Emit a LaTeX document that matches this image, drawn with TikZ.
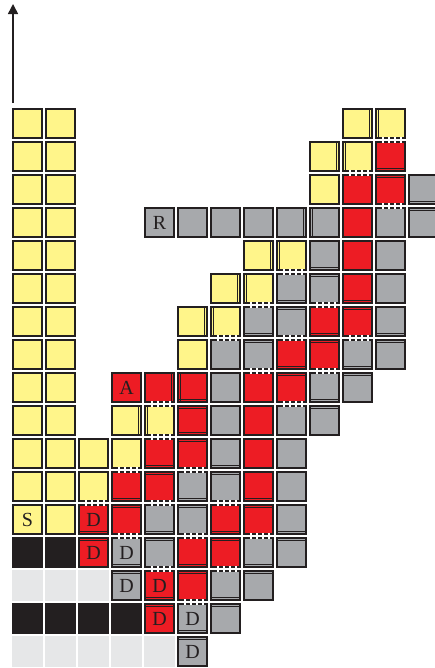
\documentclass[tikz,border=0pt]{standalone}
\usepackage{fontspec}
\setmainfont{Liberation Serif}
\usepackage{xcolor}
\usepackage{tikz}
\usetikzlibrary{arrows.meta,calc}

\definecolor{cellyellow}{RGB}{255,245,138}
\definecolor{cellred}{RGB}{237,28,36}
\definecolor{cellgray}{RGB}{167,169,172}
\definecolor{celllight}{RGB}{230,231,232}
\definecolor{ink}{RGB}{35,31,32}

\begin{document}
\begin{tikzpicture}[x=16.5pt, y=16.5pt,
  cell/.style={draw=ink, line width=0.65pt, minimum size=14.6pt,
               inner sep=0pt, outer sep=0pt, text=ink,
               font=\fontsize{10}{10}\selectfont},
  ycell/.style={cell, fill=cellyellow},
  rcell/.style={cell, fill=cellred},
  gcell/.style={cell, fill=cellgray},
  kcell/.style={cell, draw=none, minimum size=15.2pt, fill=ink},
  lcell/.style={cell, draw=none, minimum size=15.2pt, fill=celllight},
  seam/.style={draw=ink, line width=0.6pt},
  gap/.style={draw=white, line width=0.8pt, dash pattern=on 1.3pt off 1.7pt},
  axis/.style={-{Triangle[length=5pt, width=5pt]}, line width=0.75pt, draw=ink},
]
  \useasboundingbox (-0.8333,3.7424) rectangle (12.3182,-16.5);

  \coordinate (axis-base) at (-0.439,0.621);
  \coordinate (axis-tip) at (-0.439,3.621);
  \draw[axis] (axis-base) -- (axis-tip);

  % yellow
  \foreach \c in {0,1}
    \foreach \t in {0,...,11}
      \node[ycell] (cell-\c-\t) at (\c,-\t) {};
  \foreach \c/\t in {1/12,2/10,2/11,3/9,3/10,4/9,5/6,5/7,6/5,6/6,7/4,7/5,
                     8/4,9/1,9/2,10/0,10/1,11/0}
    \node[ycell] (cell-\c-\t) at (\c,-\t) {};
  \node[ycell] (cell-0-12) at (0,-12) {S};

  % red
  \foreach \c/\t in {11/1,11/2,10/2,10/3,10/4,10/5,10/6,9/6,9/7,8/7,8/8,
                     7/8,7/9,7/10,7/11,7/12,6/12,6/13,5/8,5/9,5/10,4/8,
                     4/10,4/11,3/11,3/12,5/13,5/14}
    \node[rcell] (cell-\c-\t) at (\c,-\t) {};
  \node[rcell] (cell-3-8) at (3,-8) {A};
  \foreach \c/\t in {2/12,2/13,4/14,4/15}
    \node[rcell] (cell-\c-\t) at (\c,-\t) {D};

  % gray
  \foreach \c/\t in {5/3,6/3,7/3,8/3,9/3,11/3,12/3,12/2,9/4,11/4,8/5,9/5,
                     11/5,7/6,8/6,11/6,6/7,7/7,10/7,11/7,6/8,9/8,10/8,6/9,
                     8/9,9/9,6/10,8/10,5/11,6/11,8/11,4/12,5/12,8/12,4/13,
                     7/13,8/13,6/14,7/14,6/15}
    \node[gcell] (cell-\c-\t) at (\c,-\t) {};
  \node[gcell] (cell-4-3) at (4,-3) {R};
  \foreach \c/\t in {3/13,3/14,5/15,5/16}
    \node[gcell] (cell-\c-\t) at (\c,-\t) {D};

  % black and light
  \foreach \c/\t in {0/13,1/13,0/15,1/15,2/15,3/15}
    \node[kcell] (cell-\c-\t) at (\c,-\t) {};
  \foreach \c/\t in {0/14,1/14,2/14,0/16,1/16,2/16,3/16,4/16}
    \node[lcell] (cell-\c-\t) at (\c,-\t) {};

  % side by side links
  \foreach \c/\t [evaluate=\c as \d using {int(\c+1)}] in
      {10/0,9/1,8/3,7/4,6/5,5/6,4/8,3/9} {
    \draw[seam] ($(cell-\c-\t.north east)+(-0.09,0)$) -- ($(cell-\c-\t.south east)+(-0.09,0)$);
    \draw[seam] ($(cell-\d-\t.north west)+(0.09,0)$) -- ($(cell-\d-\t.south west)+(0.09,0)$);
  }

  % stacked links
  \foreach \c/\t [evaluate=\t as \d using {int(\t+1)}] in
      {11/1,12/2,9/4,8/5,10/5,7/6,11/6,9/6,10/7,8/7,9/8,5/8,5/9,4/10,
       6/10,3/11,7/11,5/11,4/12,2/12,6/12,8/12,3/13,5/13,7/13,4/14,6/14,5/15} {
    \draw[seam] ($(cell-\c-\t.south west)+(0,0.09)$) -- ($(cell-\c-\t.south east)+(0,0.09)$);
    \draw[seam] ($(cell-\c-\d.north west)+(0,-0.09)$) -- ($(cell-\c-\d.north east)+(0,-0.09)$);
  }

  % dashed joins
  \foreach \c/\t [evaluate=\t as \d using {int(\t+1)}] in
      {11/0,10/1,8/4,7/5,6/6,4/8,4/9,3/10,2/11,11/2,9/5,8/6,10/6,9/7,8/8,
       7/7,5/10,4/11,6/11,3/12,5/12,7/12,4/13,6/13,5/14} {
    \draw[gap] ($(cell-\c-\t.south west)+(0.18,0)$) -- ($(cell-\c-\t.south east)+(-0.06,0)$);
    \draw[gap] ($(cell-\c-\d.north west)+(0.18,0)$) -- ($(cell-\c-\d.north east)+(-0.06,0)$);
  }
\end{tikzpicture}
\end{document}
